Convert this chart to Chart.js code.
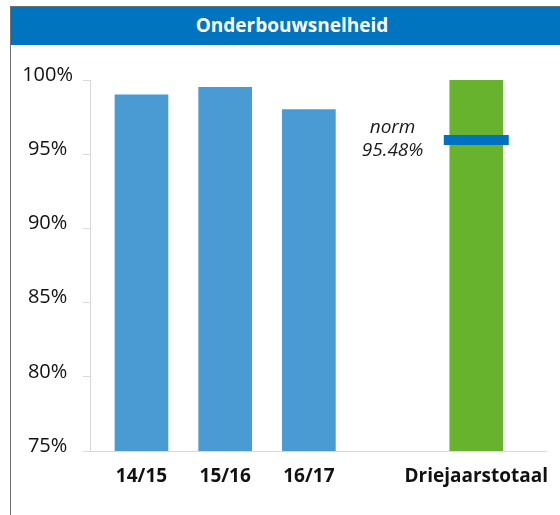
<!DOCTYPE html>
<html>
<head>
<meta charset="utf-8">
<script src="https://cdn.jsdelivr.net/npm/chart.js@4/dist/chart.umd.min.js"></script>
<style>
  html, body { margin: 0; padding: 0; background: #fff; }
  #frame { position: relative; width: 560px; height: 515px; overflow: hidden; font-family: "Open Sans", sans-serif; }
  #border { position: absolute; left: 10px; top: 6px; width: 560px; height: 520px; border-left: 1.5px solid #707070; border-top: 1px solid #707070; }
  #header { position: absolute; left: 11px; top: 7px; width: 562px; height: 38px; background: #0074bf;
            color: #fff; font-weight: 700; font-size: 19px; line-height: 36px; text-align: center; }
  #wrap { position: absolute; left: 11px; top: 45px; width: 549px; height: 470px; }
</style>
</head>
<body>
<div id="frame">
  <div id="border"></div>
  <div id="header">Onderbouwsnelheid</div>
  <div id="wrap"><canvas id="chart" width="549" height="470"></canvas></div>
</div>
<script>
// Categories (empty slot keeps the gap before the three-year total)
const categories = ['14/15', '15/16', '16/17', '', 'Driejaarstotaal'];
const speed = [99.0, 99.5, 98.0, null, 100];
const normLevel = [95.95];
const normText = ['norm', '95.48%'];
const yTicks = [75, 80, 85, 90, 95, 100];

const totalIndex = categories.length - 1;
const barPoints = [];
speed.forEach((v, i) => { if (v !== null) barPoints.push({ x: i, y: v }); });

// keep the plot box where it is, labels may hang over its edges
function noPadding(s) {
    s.paddingLeft = s.paddingRight = s.paddingTop = s.paddingBottom = 0;
}

// norm text sits in the empty slot next to the total bar
const normLabel = {
    id: 'normLabel',
    afterDatasetsDraw(chart) {
        const { ctx, scales } = chart;
        const x = scales.x.getPixelForValue(categories.indexOf(''));
        const y = scales.y.getPixelForValue(normLevel[0]);
        ctx.save();
        ctx.fillStyle = '#1a1a1a';
        ctx.font = 'italic 19px "Open Sans"';
        ctx.textAlign = 'center';
        ctx.textBaseline = 'alphabetic';
        ctx.fillText(normText[0], x, y - 7);
        ctx.fillText(normText[1], x, y + 16);
        ctx.restore();
    }
};

new Chart(document.getElementById('chart'), {
    type: 'bar',
    data: {
        datasets: [
            {
                type: 'scatter',
                data: normLevel.map(v => ({ x: totalIndex, y: v })),
                pointStyle: 'line',
                pointRadius: 32.5,
                pointHoverRadius: 32.5,
                borderColor: '#0070c0',
                backgroundColor: '#0070c0',
                pointBorderWidth: 10,
                order: 0
            },
            {
                data: barPoints,
                backgroundColor: barPoints.map(p => p.x === totalIndex ? '#67b32e' : '#4a9ad4'),
                barThickness: 53,
                order: 1
            }
        ]
    },
    options: {
        responsive: false,
        animation: false,
        layout: { autoPadding: false, padding: { top: 35, right: 14, bottom: 0, left: 0 } },
        plugins: {
            legend: { display: false },
            tooltip: { enabled: false }
        },
        scales: {
            x: {
                type: 'linear',
                offset: false,
                min: -0.615,
                max: 4.833,
                afterFit: s => { s.height = 64; noPadding(s); },
                afterBuildTicks: s => {
                    s.ticks = categories.map((c, i) => ({ value: i })).filter(t => categories[t.value] !== '');
                },
                grid: { display: false, drawTicks: true, tickLength: 14, offset: false },
                border: { display: true, color: '#d9d9d9', width: 1 },
                ticks: {
                    padding: 0,
                    color: '#111',
                    font: { family: 'Open Sans', size: 19, weight: 'bold' },
                    maxRotation: 0,
                    autoSkip: false,
                    callback: v => categories[v] ?? ''
                }
            },
            y: {
                min: 75,
                max: 100,
                afterFit: s => { s.width = 79; noPadding(s); },
                afterBuildTicks: s => { s.ticks = yTicks.map(v => ({ value: v })); },
                grid: { drawOnChartArea: false, drawTicks: true, tickLength: 7, color: '#d9d9d9' },
                border: { display: true, color: '#d9d9d9', width: 1 },
                ticks: {
                    padding: 10,
                    crossAlign: 'center',
                    labelOffset: -5,
                    color: '#111',
                    font: { family: 'Open Sans', size: 20 },
                    callback: v => v + '%'
                }
            }
        }
    },
    plugins: [normLabel]
});
</script>
</body>
</html>
